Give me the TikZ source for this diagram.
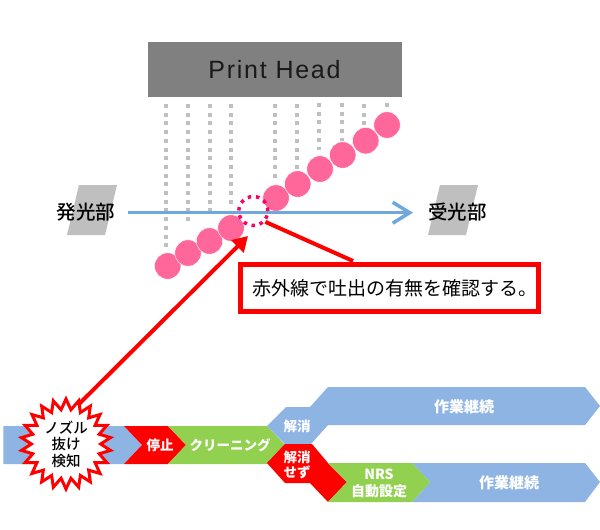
\documentclass[tikz,border=0pt]{standalone}
\usepackage{fontspec}
\setmainfont{Noto Sans CJK JP}
\newfontfamily\medfont{Noto Sans CJK JP Medium}
\newfontfamily\headfont[LetterSpace=7]{Liberation Sans}
\usetikzlibrary{arrows.meta,shapes.geometric}
\definecolor{bandblue}{HTML}{8EB4E3}
\definecolor{bandgreen}{HTML}{92D050}
\definecolor{beampink}{HTML}{FF6699}
\definecolor{ringpink}{HTML}{FF0066}
\definecolor{beamblue}{HTML}{6FA8DC}
\tikzset{
	dropline/.style={line width=4pt, color=black!25, dash pattern=on 4pt off 4.7pt},
	drop/.style={fill=beampink, draw=white, line width=0.4pt},
	sensor/.style={fill=black!25},
	sensorlabel/.style={font=\fontsize{19.5}{19.5}\selectfont\medfont, text=black, inner sep=0pt},
	bandlabel/.style={font=\fontsize{13.5}{16}\selectfont\bfseries, text=white, inner sep=0pt, align=center},
	redline/.style={line width=4pt, color=red}
}

\begin{document}
\begin{tikzpicture}[x=1pt, y=-1pt]
			%%%%% START %%%%%
			
			\useasboundingbox[fill=white] (0, 0) rectangle (600, 530);
			
			\fill[black!50] (148, 42) rectangle (402, 97);
			\node[inner sep=0pt, text=black!90, font=\fontsize{25}{25}\selectfont\headfont] (head) at (274.5, 70) {Print Head};
			
			\draw[dropline] (166, 104) -- (166, 249);
			\draw[dropline] (188, 104) -- (188, 223);
			\draw[dropline] (209.5, 104) -- (209.5, 214);
			\draw[dropline] (231, 104) -- (231, 205);
			\draw[dropline] (275, 104) -- (275, 178);
			\draw[dropline] (297, 104) -- (297, 170);
			\draw[dropline] (319, 103) -- (319, 150);
			\draw[dropline] (342, 103) -- (342, 141);
			\draw[dropline] (364, 104) -- (364, 126);
			\draw[dropline] (387, 103) -- (387, 109);
			
			\fill[sensor] (79, 185) -- (117, 185) -- (105, 235) -- (67, 235) -- cycle;
			\fill[sensor] (440, 185) -- (478, 185) -- (466, 235) -- (428, 235) -- cycle;
			\node[sensorlabel] (emitter) at (86, 212) {発光部};
			\node[sensorlabel] (receiver) at (457.5, 212) {受光部};
			
			\draw[drop] (167.7, 266) circle (13.2);
			\draw[drop] (188, 253) circle (13.2);
			\draw[drop] (209.5, 241) circle (13.2);
			\draw[drop] (231, 228) circle (13.2);
			\draw[drop] (276, 198) circle (13.2);
			\draw[drop] (297.7, 184) circle (13.2);
			\draw[drop] (320, 169) circle (13.2);
			\draw[drop] (342.7, 155) circle (13.2);
			\draw[drop] (365.7, 140.7) circle (13.2);
			\draw[drop] (387, 125) circle (13.2);
			
			\coordinate (beamstart) at (128, 212.7);
			\coordinate (beamend) at (413, 212.7);
			\draw[line width=3.5pt, color=beamblue, -{Straight Barb[length=17pt, width=21pt, line width=3.5pt]}] (beamstart) -- (beamend);
			
			\node[circle, minimum size=29pt, inner sep=0pt, draw=ringpink, line width=3.5pt, dash pattern=on 3.5pt off 4.8pt] (ring) at (253.3, 211) {};
			
			\node[draw=red, line width=5pt, fill=white, minimum width=298pt, minimum height=47pt, inner sep=0pt, font=\fontsize{19}{19}\selectfont] (callout) at (389.5, 288) {\hspace*{10pt}赤外線で吐出の有無を確認する。};
			\coordinate (calloutfoot) at (353, 261);
			\draw[redline] (ring.-42) -- (calloutfoot);
			
			\fill[bandblue] (3.3, 426) -- (124, 426) -- (142, 445) -- (124, 464) -- (3.3, 464) -- cycle;
			\fill[red] (124, 426) -- (168, 426) -- (186, 445) -- (168, 464) -- (124, 464) -- (142, 445) -- cycle;
			\fill[bandgreen] (168, 426) -- (267, 426) -- (285, 445) -- (267, 464) -- (168, 464) -- (186, 445) -- cycle;
			\fill[bandblue] (267, 426) -- (286, 407) -- (310, 407) -- (328, 387) -- (585, 387) -- (600, 406) -- (585, 425) -- (328, 425) -- (311, 444) -- (285, 444) -- cycle;
			\fill[bandblue] (412, 463) -- (585, 463) -- (600, 482) -- (585, 502) -- (412, 502) -- (430, 482) -- cycle;
			\fill[red] (285, 444) -- (312, 444) -- (328, 463) -- (347, 482) -- (328, 502) -- (310, 483) -- (285, 483) -- (267, 463) -- cycle;
			\fill[bandgreen] (328, 463) -- (412, 463) -- (430, 482) -- (412, 502) -- (328, 502) -- (347, 482) -- cycle;
			
			\node[bandlabel] (stop) at (160, 445) {停止};
			\node[bandlabel] (clean) at (230, 445) {クリーニング};
			\node[bandlabel] (clear) at (297, 426) {解消};
			\node[bandlabel, font=\fontsize{13.5}{15}\selectfont\bfseries] (notclear) at (297, 464.5) {解消\\せず};
			\node[bandlabel, font=\fontsize{14}{17}\selectfont\bfseries] (nrs) at (379, 483.5) {NRS\\自動設定};
			\node[bandlabel, font=\fontsize{15}{15}\selectfont\bfseries] (workup) at (464, 407) {作業継続};
			\node[bandlabel, font=\fontsize{15}{15}\selectfont\bfseries] (worklow) at (509, 483) {作業継続};
			
			\coordinate (alarmfoot) at (76, 407);
			\coordinate (alarmtip) at (248, 236);
			\draw[redline, -{Triangle[length=15pt, width=17pt]}] (alarmfoot) -- (alarmtip);
			
			\node[star, star points=22, star point ratio=1.3, minimum size=90pt, inner sep=0pt, draw=red, line width=3pt, fill=white, align=center, font=\fontsize{14.5}{16.5}\selectfont\medfont] (burst) at (66, 444) {ノズル\\抜け\\検知};
			
			%%%%% END %%%%%
		\end{tikzpicture}
\end{document}
